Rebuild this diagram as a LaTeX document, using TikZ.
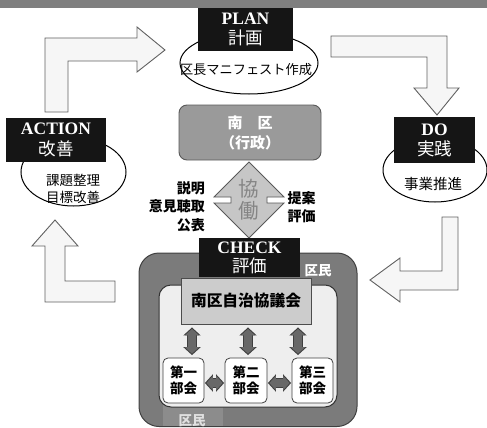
\documentclass[tikz,border=0pt]{standalone}
\usepackage{fontspec}
\setmainfont{Liberation Serif}
\newfontfamily\jp{Noto Sans CJK JP}
\usetikzlibrary{arrows.meta,shapes.geometric}
\definecolor{barg}{HTML}{7F7F7F}
\definecolor{boxblack}{HTML}{151515}
\definecolor{arrfill}{HTML}{F6F6F6}
\definecolor{arredge}{HTML}{606060}
\definecolor{govfill}{HTML}{9A9A9A}
\definecolor{diafill}{HTML}{C6C6C6}
\definecolor{diatext}{HTML}{858585}
\definecolor{outerg}{HTML}{7B7B7B}
\definecolor{stripg}{HTML}{8C8C8C}
\definecolor{innerg}{HTML}{EEEEEE}
\definecolor{councilg}{HTML}{CCCCCC}
\definecolor{dblg}{HTML}{686868}
\definecolor{dbledge}{HTML}{3F3F3F}
\tikzset{
  bigarrow/.style={fill=arrfill,draw=arredge,line width=0.9pt,line join=miter},
  phase/.style={fill=boxblack,text=white,inner sep=0pt,align=center,
    font=\bfseries\fontsize{17.5}{21}\selectfont},
  oval/.style={ellipse,draw=black,fill=white,line width=1pt,inner sep=0pt},
  ovaltext/.style={align=center,inner sep=0pt,font=\jp\fontsize{13.5}{17}\selectfont},
  sidelbl/.style={inner sep=0pt,font=\jp\bfseries\fontsize{14}{18.5}\selectfont},
  subbox/.style={rounded corners=5pt,fill=white,draw=black!75,line width=0.8pt,
    minimum width=41pt,minimum height=45pt,inner sep=0pt,align=center,
    font=\jp\bfseries\fontsize{13.5}{16}\selectfont},
  dblout/.style={draw=dbledge,line width=9.5pt,
    {Triangle[length=8pt,width=17pt]}-{Triangle[length=8pt,width=17pt]}},
  dbl/.style={draw=dblg,line width=7.5pt,
    {Triangle[length=6.5pt,width=14pt]}-{Triangle[length=6.5pt,width=14pt]}},
}
\begin{document}
\begin{tikzpicture}[x=1pt,y=-1pt]
\useasboundingbox (0,0) rectangle (487,428);
\fill[barg] (0,0) rectangle (487,8);

% big cycle arrows
\draw[bigarrow] (45,112) -- (45,38) -- (137,38) -- (137,27) -- (165,50) -- (137,72) -- (137,61) -- (68,61) -- (68,112) -- cycle;
\draw[bigarrow] (331,36) -- (447,36) -- (447,88) -- (459,88) -- (437,115) -- (414,88) -- (427,88) -- (427,57) -- (331,57) -- cycle;
\draw[bigarrow] (442,217) -- (458,217) -- (458,290) -- (400,290) -- (400,302) -- (370,280) -- (400,258) -- (400,271) -- (442,271) -- cycle;
\draw[bigarrow] (115,281) -- (115,302) -- (45,302) -- (45,246) -- (32,246) -- (55,220) -- (78,246) -- (65,246) -- (65,281) -- cycle;

% ellipses
\node[oval,minimum width=138pt,minimum height=62pt] (planov) at (249,63) {};
\node[oval,minimum width=105pt,minimum height=68pt] (actov) at (73.5,172) {};
\node[oval,minimum width=104pt,minimum height=64pt] (doov) at (435,170) {};
\node[ovaltext,font=\jp\fontsize{13.2}{15}\selectfont] (plantxt) at (246,70) {区長マニフェスト作成};
\node[ovaltext] (acttxt) at (73,188.5) {課題整理\\目標改善};
\node[ovaltext,font=\jp\fontsize{14.5}{17}\selectfont] (dotxt) at (433,183.5) {事業推進};

% phase boxes
\node[phase,minimum width=95pt,minimum height=43pt] (plan) at (245.5,29.5) {PLAN\\[-1pt]{\jp\mdseries 計画}};
\node[phase,minimum width=81pt,minimum height=46pt] (do) at (434.5,140) {DO\\[-1pt]{\jp\mdseries 実践}};
\node[phase,minimum width=100pt,minimum height=44pt] (action) at (56,140) {ACTION\\[0pt]{\jp\mdseries 改善}};

% government box
\node[rounded corners=8pt,fill=govfill,draw=black!65,line width=0.9pt,
  minimum width=142pt,minimum height=55pt,inner sep=0pt,align=center,text=white,
  font=\jp\bfseries\fontsize{15}{20}\selectfont] (gov) at (250,132.5) {南　区\\（行政）};

% diamond
\draw[fill=diafill,draw=black!65,line width=0.8pt] (249,162) -- (214,197) -- (231,197) -- (231,203) -- (214,203) -- (249,238)
  -- (284,203) -- (267,203) -- (267,197) -- (284,197) -- cycle;
\node[inner sep=0pt,align=center,text=diatext,font=\jp\fontsize{20.5}{22}\selectfont] (kyodo) at (249,200) {協\\働};
\node[sidelbl,align=right,anchor=east] (lleft) at (205,206.5) {説明\\意見聴取\\公表};
\node[sidelbl,align=left,anchor=west] (lright) at (287.5,207) {提案\\評価};

% citizens area
\draw[rounded corners=20pt,fill=outerg,draw=black!75,line width=1pt] (139,253) rectangle (357,426.5);
\fill[stripg] (163,405) rectangle (223,426);
\node[phase,minimum width=101pt,minimum height=39pt,font=\bfseries\fontsize{17.5}{20}\selectfont] (check) at (249.5,257.5) {CHECK\\[-1pt]{\jp\mdseries 評価}};
\draw[rounded corners=12pt,fill=innerg,draw=black!80,line width=1pt] (159,285) rectangle (337,407);
\node[inner sep=0pt,text=white,font=\jp\bfseries\fontsize{13.5}{15}\selectfont] (kumin1) at (318,271) {区民};
\node[inner sep=0pt,text=white!88!black,font=\jp\bfseries\fontsize{13.5}{15}\selectfont] (kumin2) at (192,421) {区民};

\node[fill=councilg,draw=black!70,line width=0.9pt,minimum width=130pt,minimum height=46pt,inner sep=0pt,
  font=\jp\bfseries\fontsize{15.7}{18}\selectfont] (council) at (246,301) {南区自治協議会};

\node[subbox] (b1) at (183.5,380.5) {第一\\部会};
\node[subbox,minimum width=42pt] (b2) at (246,380.5) {第二\\部会};
\node[subbox] (b3) at (312.5,380.5) {第三\\部会};

\foreach \xx/\bb in {192/b1,248/b2,298/b3}{
  \draw[dblout,shorten <=3pt,shorten >=2.5pt] (council.south -| \xx,0) -- (\bb.north -| \xx,0);
  \draw[dbl,shorten <=4.5pt,shorten >=4pt] (council.south -| \xx,0) -- (\bb.north -| \xx,0);
}
\draw[dblout,shorten <=0.5pt,shorten >=0.5pt] ([yshift=-2.5pt]b1.east) -- ([yshift=-2.5pt]b2.west);
\draw[dbl,shorten <=2pt,shorten >=2pt] ([yshift=-2.5pt]b1.east) -- ([yshift=-2.5pt]b2.west);
\draw[dblout,shorten <=0.5pt,shorten >=0.5pt] ([yshift=-2.5pt]b2.east) -- ([yshift=-2.5pt]b3.west);
\draw[dbl,shorten <=2pt,shorten >=2pt] ([yshift=-2.5pt]b2.east) -- ([yshift=-2.5pt]b3.west);
\end{tikzpicture}
\end{document}
